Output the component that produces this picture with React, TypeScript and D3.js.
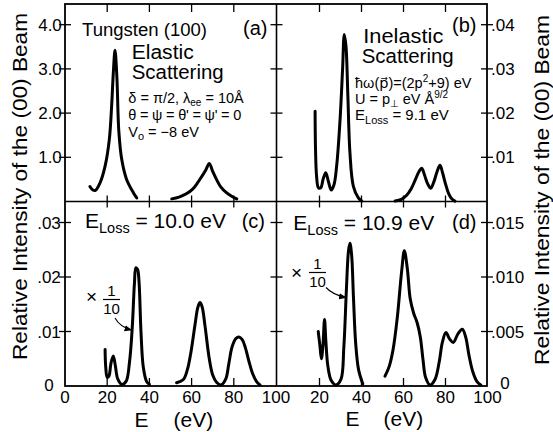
import React from "react";
import * as d3 from "d3";

const W = 553;
const H = 432;
const FONT = "'Liberation Sans', 'DejaVu Sans', Arial, sans-serif";

// Energy axis (eV)
const energyTicks = [20, 40, 60, 80];
const energyLabelsLeft = [0, 20, 40, 60, 80, 100];
const energyLabelsRight = [20, 40, 60, 80, 100];

// Intensity ticks for each panel
const ticksA = [1, 2, 3, 4];
const labelsA = ["1.0", "2.0", "3.0", "4.0"];
const ticksB = [0.01, 0.02, 0.03, 0.04];
const labelsB = [".01", ".02", ".03", ".04"];
const ticksC = [0.01, 0.02, 0.03];
const labelsC = [".01", ".02", ".03"];
const ticksD = [0.005, 0.01, 0.015];
const labelsD = [".005", ".010", ".015"];

// (a) elastic scattering, [E (eV), intensity]
const elasticLow: [number, number][] = [
  [11.8, 0.34], [13.2, 0.26], [14.4, 0.25], [16.6, 0.42], [19, 0.8], [21, 1.4],
  [22.1, 2.16], [22.9, 2.91], [23.7, 3.42], [24.6, 2.8], [25.5, 1.6],
  [26.9, 0.95], [29.2, 0.5], [32.4, 0.2], [34, 0.08],
];
const elasticHigh: [number, number][] = [
  [50.6, 0.06], [54, 0.1], [57.7, 0.18], [60.5, 0.28], [62.8, 0.42], [65, 0.58],
  [66.8, 0.72], [68.4, 0.86], [70, 0.68], [71.8, 0.5], [73.8, 0.33],
  [76.5, 0.2], [79, 0.12], [81.4, 0.06],
];

// (b) inelastic, E_loss = 9.1 eV
const loss91Low: [number, number][] = [
  [17.9, 0.0204], [18.1, 0.012], [18.6, 0.0058], [19.5, 0.0031], [20.6, 0.0031],
  [21.8, 0.0052], [23.0, 0.0065], [24.3, 0.0044], [25.6, 0.0026], [26.9, 0.0038],
  [28.2, 0.0082], [29.8, 0.0186], [31.0, 0.030], [31.8, 0.0378], [32.6, 0.0352],
  [33.5, 0.024], [34.5, 0.011], [36.1, 0.0035], [38.5, 0.0008], [40.1, 0.0001],
];
const loss91High: [number, number][] = [
  [56, 0.0001], [59, 0.0005], [61.5, 0.0014], [63.8, 0.0030], [65.7, 0.0050],
  [67.4, 0.0068], [68.7, 0.0075], [70.0, 0.0060], [71.5, 0.0040], [73.0, 0.0030],
  [74.5, 0.0045], [76.0, 0.0068], [77.4, 0.0082], [78.6, 0.0065], [80.0, 0.0040],
  [81.5, 0.0018], [83.0, 0.0006], [84.5, 0.0001],
];

// (c) E_loss = 10.0 eV
const loss100Low: [number, number][] = [
  [19, 0.0067], [19.3, 0.0035], [20.0, 0.0016], [20.8, 0.0018], [21.8, 0.0042],
  [22.9, 0.0055], [23.9, 0.0036], [25, 0.0013], [26.9, 0.0003], [29.0, 0.0009],
  [30.6, 0.0045], [31.9, 0.0109], [32.9, 0.0188], [33.6, 0.0217], [34.4, 0.0214],
  [35.1, 0.0190], [36, 0.0100], [37.1, 0.0035], [38.7, 0.0008], [40, 0.0003],
];
const loss100High: [number, number][] = [
  [52.9, 0.0006], [56.1, 0.0012], [58.0, 0.0030], [59.6, 0.0060], [61.6, 0.0112],
  [63.0, 0.0145], [64, 0.0153], [65.0, 0.0145], [66.4, 0.0109], [68.3, 0.0052],
  [70.0, 0.0020], [71.8, 0.0007], [74.0, 0.0002], [76.2, 0.0013], [77.6, 0.0040],
  [79.2, 0.0072], [81.0, 0.0087], [82.4, 0.0090], [84.0, 0.0085], [85.5, 0.0070],
  [87.2, 0.0045], [89.0, 0.0022], [90.8, 0.0008], [92.4, 0.0002],
];

// (d) E_loss = 10.9 eV
const loss109Low: [number, number][] = [
  [19.4, 0.005], [20.2, 0.0037], [20.9, 0.0025], [21.6, 0.0036], [22.4, 0.0061],
  [23.0, 0.0042], [24.0, 0.0018], [25.6, 0.0005], [27.8, 0.0001], [30.2, 0.0006],
  [31.6, 0.0036], [32.8, 0.0088], [33.8, 0.0124], [34.5, 0.0131], [35.3, 0.0120],
  [36.2, 0.0080], [37.2, 0.0040], [38.6, 0.0015], [40.6, 0.0002],
];
const loss109High: [number, number][] = [
  [51.2, 0.0009], [53.2, 0.0018], [55.0, 0.0033], [57.0, 0.0062], [59.1, 0.0105],
  [60.4, 0.0124], [61.8, 0.0108], [63.2, 0.0080], [64.8, 0.0067], [66.5, 0.0058],
  [68.0, 0.0045], [69.3, 0.0024], [70.5, 0.0008], [72.6, 0.0001], [75.0, 0.0006],
  [77.0, 0.0022], [78.5, 0.0040], [80.2, 0.0049], [82.0, 0.0043], [83.7, 0.0040],
  [86.0, 0.0048], [88.0, 0.0052], [89.6, 0.0045], [91.2, 0.0028], [93.0, 0.0013],
  [95.0, 0.0004], [96.8, 0.0001],
];

// Frame geometry
const LEFT = 65;
const MID_X = 276.5;
const RIGHT = 487;
const TOP = 4;
const MID_Y = 201.5;
const BOTTOM = 386;

const xLeft = d3.scaleLinear().domain([0, 100]).range([65, 276]);
const xRight = d3.scaleLinear().domain([0, 100]).range([277.5, 487.5]);
const yA = d3.scaleLinear().domain([0, 1]).range([MID_Y, MID_Y - 44.2]);
const yB = d3.scaleLinear().domain([0, 0.01]).range([MID_Y, MID_Y - 44.2]);
const yC = d3.scaleLinear().domain([0, 0.01]).range([BOTTOM, BOTTOM - 54.5]);
const yD = d3.scaleLinear().domain([0, 0.005]).range([BOTTOM, BOTTOM - 54.5]);

function curvePath(
  data: [number, number][],
  x: d3.ScaleLinear<number, number>,
  y: d3.ScaleLinear<number, number>
) {
  return (
    d3
      .line<[number, number]>()
      .x((d) => x(d[0]))
      .y((d) => y(d[1]))
      .curve(d3.curveCatmullRom.alpha(0.5))(data) || ""
  );
}

const curves = [
  { data: elasticLow, x: xLeft, y: yA },
  { data: elasticHigh, x: xLeft, y: yA },
  { data: loss91Low, x: xRight, y: yB },
  { data: loss91High, x: xRight, y: yB },
  { data: loss100Low, x: xLeft, y: yC },
  { data: loss100High, x: xLeft, y: yC },
  { data: loss109Low, x: xRight, y: yD },
  { data: loss109High, x: xRight, y: yD },
];

export default function App() {
  const tickStroke = { stroke: "#000", strokeWidth: 1.3 };
  const tk = 6;
  return (
    <svg
      width={W}
      height={H}
      viewBox={`0 0 ${W} ${H}`}
      style={{ position: "absolute", left: 0, top: 0, background: "#fff" }}
      fontFamily={FONT}
    >
      <defs>
        <marker id="ah" viewBox="0 0 10 10" refX="9" refY="5" markerWidth="7" markerHeight="7" orient="auto">
          <path d="M0,1 L10,5 L0,9 Z" fill="#000" />
        </marker>
      </defs>
      <rect x={0} y={0} width={W} height={H} fill="#fff" />

      {/* frame */}
      <rect x={LEFT} y={TOP} width={RIGHT - LEFT} height={BOTTOM - TOP} fill="none" stroke="#000" strokeWidth={1.8} />
      <line x1={MID_X} x2={MID_X} y1={TOP} y2={BOTTOM} stroke="#000" strokeWidth={1.6} />
      <line x1={LEFT} x2={RIGHT} y1={MID_Y} y2={MID_Y} stroke="#000" strokeWidth={1.6} />

      {/* energy ticks */}
      {[xLeft, xRight].map((x, i) =>
        energyTicks.map((e) => (
          <g key={`et${i}-${e}`}>
            <line x1={x(e)} x2={x(e)} y1={TOP} y2={TOP + 8} {...tickStroke} />
            <line x1={x(e)} x2={x(e)} y1={MID_Y - tk} y2={MID_Y + tk} {...tickStroke} />
            <line x1={x(e)} x2={x(e)} y1={BOTTOM - 8} y2={BOTTOM} {...tickStroke} />
          </g>
        ))
      )}

      {/* intensity ticks, upper row */}
      {ticksA.map((v) => (
        <g key={`ta${v}`}>
          <line x1={LEFT - tk} x2={LEFT + tk} y1={yA(v)} y2={yA(v)} {...tickStroke} />
          <line x1={MID_X - tk} x2={MID_X + tk} y1={yA(v)} y2={yA(v)} {...tickStroke} />
        </g>
      ))}
      {ticksB.map((v) => (
        <line key={`tb${v}`} x1={RIGHT - tk} x2={RIGHT + tk} y1={yB(v)} y2={yB(v)} {...tickStroke} />
      ))}
      {/* intensity ticks, lower row */}
      {ticksC.map((v) => (
        <g key={`tc${v}`}>
          <line x1={LEFT - tk} x2={LEFT + tk} y1={yC(v)} y2={yC(v)} {...tickStroke} />
          <line x1={MID_X - tk} x2={MID_X + tk} y1={yC(v)} y2={yC(v)} {...tickStroke} />
        </g>
      ))}
      {ticksD.map((v) => (
        <line key={`td${v}`} x1={RIGHT - tk} x2={RIGHT + tk} y1={yD(v)} y2={yD(v)} {...tickStroke} />
      ))}

      {/* tick labels */}
      <g fontSize={17} fill="#000">
        {ticksA.map((v, i) => (
          <text key={`la${v}`} x={50} y={yA(v) + 6} textAnchor="middle">{labelsA[i]}</text>
        ))}
        {ticksC.map((v, i) => (
          <text key={`lc${v}`} x={49} y={yC(v) + 6} textAnchor="middle">{labelsC[i]}</text>
        ))}
        <text x={49} y={yC(0) + 5} textAnchor="middle">0</text>
        {ticksB.map((v, i) => (
          <text key={`lb${v}`} x={491} y={yB(v) + 6}>{labelsB[i]}</text>
        ))}
        {ticksD.map((v, i) => (
          <text key={`ld${v}`} x={491} y={yD(v) + 6}>{labelsD[i]}</text>
        ))}
        <text x={505} y={yD(0) + 3} textAnchor="middle">0</text>
        {energyLabelsLeft.map((e) => (
          <text key={`el${e}`} x={xLeft(e)} y={403} textAnchor="middle">{e}</text>
        ))}
        {energyLabelsRight.map((e) => (
          <text key={`er${e}`} x={xRight(e)} y={403} textAnchor="middle">{e}</text>
        ))}
      </g>

      {/* axis titles */}
      <g fontSize={21} fill="#000">
        <text x={141.5} y={426.5} textAnchor="middle">E</text>
        <text x={193.3} y={426.5} textAnchor="middle">(eV)</text>
        <text x={352.5} y={426} textAnchor="middle">E</text>
        <text x={403.3} y={426} textAnchor="middle">(eV)</text>
        <text
          transform={`translate(27,186.5) rotate(-90)`}
          textAnchor="middle"
          textLength={347}
          lengthAdjust="spacingAndGlyphs"
        >
          Relative Intensity of the (00) Beam
        </text>
        <text
          transform={`translate(549,190) rotate(-90)`}
          textAnchor="middle"
          textLength={350}
          lengthAdjust="spacingAndGlyphs"
        >
          Relative Intensity of the (00) Beam
        </text>
      </g>

      {/* curves */}
      {curves.map((c, i) => (
        <path
          key={`c${i}`}
          d={curvePath(c.data, c.x, c.y)}
          fill="none"
          stroke="#000"
          strokeWidth={3}
          strokeLinejoin="round"
          strokeLinecap="round"
        />
      ))}

      {/* panel (a) text */}
      <g fill="#000">
        <text x={82} y={36} fontSize={18} textLength={125} lengthAdjust="spacingAndGlyphs">Tungsten (100)</text>
        <text x={243} y={35} fontSize={20}>(a)</text>
        <text x={131.7} y={59} fontSize={20} textLength={62} lengthAdjust="spacingAndGlyphs">Elastic</text>
        <text x={131.7} y={79} fontSize={20} textLength={92} lengthAdjust="spacingAndGlyphs">Scattering</text>
        <text x={128.3} y={103.3} fontSize={14.5}>
          δ = π/2,  λ<tspan dy={3} fontSize={10}>ee</tspan><tspan dy={-3}> = 10Å</tspan>
        </text>
        <text x={128.3} y={120} fontSize={14.5} textLength={113} lengthAdjust="spacing">θ = ψ = θ' = ψ' = 0</text>
        <text x={128.3} y={136.7} fontSize={14.5}>
          V<tspan dy={3} fontSize={11}>o</tspan><tspan dy={-3}> = −8 eV</tspan>
        </text>
      </g>

      {/* panel (b) text */}
      <g fill="#000">
        <text x={452} y={32} fontSize={20}>(b)</text>
        <text x={363.3} y={43} fontSize={20} textLength={80} lengthAdjust="spacingAndGlyphs">Inelastic</text>
        <text x={361.7} y={63} fontSize={20} textLength={92} lengthAdjust="spacingAndGlyphs">Scattering</text>
        <text x={355} y={88.3} fontSize={14.5}>
          ħω(p{"\u20D7"})=(2p<tspan dy={-6} fontSize={10}>2</tspan><tspan dy={6}>+9) eV</tspan>
        </text>
        <text x={355} y={104} fontSize={14.5}>
          U = p<tspan dy={3} fontSize={10}>⊥</tspan><tspan dy={-3}> eV Å</tspan><tspan dy={-6} fontSize={10}>9/2</tspan>
        </text>
        <text x={355} y={120} fontSize={15}>
          E<tspan dy={4} fontSize={11}>Loss</tspan><tspan dy={-4}> = 9.1 eV</tspan>
        </text>
      </g>

      {/* panel (c) text */}
      <g fill="#000">
        <text x={85} y={228.3} fontSize={21}>
          E<tspan dy={5} fontSize={14.5}>Loss</tspan><tspan dy={-5}> = 10.0 eV</tspan>
        </text>
        <text x={241.7} y={228} fontSize={20}>(c)</text>
        <text x={91.5} y={303} fontSize={19} textAnchor="middle">×</text>
        <text x={111.5} y={296} fontSize={15} textAnchor="middle">1</text>
        <line x1={103} x2={120} y1={299.5} y2={299.5} stroke="#000" strokeWidth={1.2} />
        <text x={111.5} y={313.5} fontSize={15} textAnchor="middle">10</text>
        <path d="M115,318 Q120,327 131.5,330" fill="none" stroke="#000" strokeWidth={1.1} markerEnd="url(#ah)" />
      </g>

      {/* panel (d) text */}
      <g fill="#000">
        <text x={293.3} y={229.5} fontSize={21}>
          E<tspan dy={5} fontSize={14.5}>Loss</tspan><tspan dy={-5}> = 10.9 eV</tspan>
        </text>
        <text x={452} y={229} fontSize={20}>(d)</text>
        <text x={296.5} y={279} fontSize={19} textAnchor="middle">×</text>
        <text x={317.5} y={269} fontSize={15} textAnchor="middle">1</text>
        <line x1={309} x2={326} y1={272.5} y2={272.5} stroke="#000" strokeWidth={1.2} />
        <text x={317.5} y={286.5} fontSize={15} textAnchor="middle">10</text>
        <path d="M326,287.5 Q333,295 346,297.5" fill="none" stroke="#000" strokeWidth={1.1} markerEnd="url(#ah)" />
      </g>
    </svg>
  );
}
